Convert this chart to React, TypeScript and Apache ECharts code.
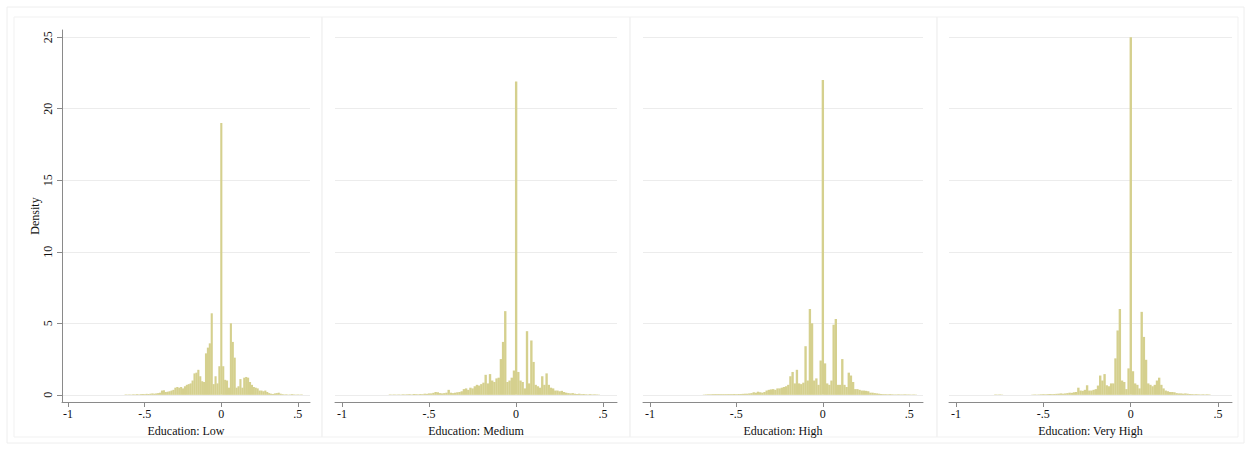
import React, { useEffect, useRef } from "react";
import * as echarts from "echarts";

// ---------- data ----------
const BIN_WIDTH = 0.0125;
const panelTitles = ["Education: Low", "Education: Medium", "Education: High", "Education: Very High"];
const xTicks = [-1, -0.5, 0, 0.5];
const yTicks = [0, 5, 10, 15, 20, 25];

// heights (density) of consecutive bins, first bin centred at *Start
const lowStart = -0.625;
const lowDensity = [
  0.03, 0.02, 0.03, 0.02, 0.04, 0.03, 0.05, 0.03,
  0.05, 0.06, 0.05, 0.07, 0.06, 0.08, 0.1, 0.08,
  0.1, 0.12, 0.15, 0.3, 0.32, 0.2, 0.22, 0.25,
  0.3, 0.35, 0.5, 0.55, 0.5, 0.55, 0.45, 0.6,
  0.7, 0.75, 0.8, 1.0, 1.5, 1.55, 1.75, 1.3,
  0.95, 0.9, 2.9, 3.3, 3.6, 5.7, 0.75, 1.3,
  0.8, 2.0, 19.0, 2.0, 1.05, 1.0, 0.5, 5.0,
  3.7, 2.6, 0.5, 0.6, 1.1, 0.5, 1.2, 1.25,
  1.2, 0.9, 0.7, 0.55, 0.5, 0.45, 0.3, 0.3,
  0.25, 0.3, 0.2, 0.12, 0.08, 0.06, 0.1, 0.12,
  0.15, 0.08, 0.05, 0.03, 0.04, 0.02, 0.03, 0.05,
  0.03, 0.02, 0.03, 0.02, 0.03,
];

const mediumStart = -0.725;
const mediumDensity = [
  0.03, 0.02, 0.03, 0.02, 0.03, 0.02, 0.04, 0.03,
  0.04, 0.05, 0.03, 0.06, 0.05, 0.04, 0.06, 0.05,
  0.08, 0.07, 0.1, 0.1, 0.14, 0.2, 0.18, 0.12,
  0.1, 0.12, 0.15, 0.35, 0.15, 0.12, 0.15, 0.18,
  0.2, 0.25, 0.4, 0.45, 0.35, 0.5, 0.45, 0.6,
  0.7, 0.65, 0.75, 0.85, 1.4, 0.8, 1.45, 1.0,
  0.9, 1.15, 1.2, 2.5, 3.7, 5.85, 0.9, 1.0,
  1.2, 1.7, 21.9, 1.6, 1.0, 0.9, 0.45, 4.45,
  0.8, 3.8, 2.3, 0.7, 0.6, 0.5, 1.3, 0.7,
  1.5, 0.7, 0.5, 0.45, 0.3, 0.3, 0.25, 0.28,
  0.2, 0.15, 0.12, 0.1, 0.12, 0.08, 0.06, 0.08,
  0.05, 0.06, 0.04, 0.03, 0.05, 0.03, 0.04, 0.03,
  0.02,
];

const highStart = -0.6875;
const highDensity = [
  0.02, 0.03, 0.04, 0.04, 0.05, 0.05, 0.05, 0.05,
  0.05, 0.05, 0.05, 0.05, 0.05, 0.05, 0.06, 0.05,
  0.06, 0.06, 0.07, 0.08, 0.08, 0.1, 0.12, 0.18,
  0.15, 0.22, 0.18, 0.15, 0.2, 0.3, 0.35, 0.38,
  0.4, 0.35, 0.45, 0.45, 0.5, 0.55, 0.6, 0.7,
  1.3, 1.6, 0.8, 1.75, 0.8, 0.75, 0.85, 3.4,
  1.0, 6.0, 5.0, 1.0, 1.15, 0.7, 2.4, 22.0,
  2.2, 0.8, 0.7, 1.0, 4.9, 5.3, 0.7, 0.7,
  2.5, 0.7, 0.55, 1.55, 1.35, 0.9, 0.4, 0.4,
  0.35, 0.3, 0.3, 0.28, 0.25, 0.15, 0.15, 0.12,
  0.1, 0.08, 0.06, 0.05, 0.05, 0.04, 0.05, 0.04,
  0.03, 0.03, 0.04, 0.03, 0.03, 0.04, 0.03, 0.03,
  0.02, 0.03, 0.02,
];

const veryHighStart = -0.775;
const veryHighDensity = [
  0.03, 0.02, 0.03, 0.02, 0, 0, 0, 0,
  0, 0, 0, 0, 0, 0, 0, 0,
  0, 0.02, 0.03, 0.02, 0.03, 0.04, 0.05, 0.04,
  0.05, 0.06, 0.05, 0.06, 0.07, 0.08, 0.1, 0.08,
  0.1, 0.12, 0.15, 0.14, 0.18, 0.2, 0.5, 0.3,
  0.28, 0.35, 0.67, 0.3, 0.3, 0.35, 0.4, 0.65,
  1.35, 1.0, 1.45, 0.67, 0.6, 0.8, 0.8, 2.55,
  4.5, 6.0, 1.0, 0.9, 0.4, 1.85, 25.0, 1.65,
  0.8, 0.7, 0.45, 5.8, 4.05, 2.45, 0.8, 0.7,
  0.6, 0.7, 1.0, 1.2, 0.7, 0.45, 0.3, 0.25,
  0.2, 0.2, 0.18, 0.12, 0.1, 0.1, 0.08, 0.1,
  0.08, 0.06, 0.05, 0.04, 0.05, 0.04, 0.03, 0.04,
  0.03, 0.04, 0.03,
];

const panelStarts = [lowStart, mediumStart, highStart, veryHighStart];
const panelDensities = [lowDensity, mediumDensity, highDensity, veryHighDensity];

// ---------- styling / layout ----------
const BAR_COLOR = "#d5d08e";
const AXIS_COLOR = "#8a8a8a";
const GRID_COLOR = "#ececec";
const FONT = "'Liberation Serif', 'DejaVu Serif', serif";
const PLOT_TOP = 30;
const PLOT_HEIGHT = 372;
const panelLayout = [
  { left: 62, width: 248 },
  { left: 335, width: 282 },
  { left: 643, width: 280 },
  { left: 949, width: 283 },
];
const frameXs = [14, 322, 630, 937, 1238];

function fmtTick(v: number): string {
  if (v === 0) return "0";
  const s = String(Math.abs(v)).replace(/^0/, "");
  return (v < 0 ? "-" : "") + s;
}

export default function App() {
  const ref = useRef<HTMLDivElement>(null);

  useEffect(() => {
    if (!ref.current) return;
    const chart = echarts.init(ref.current, null, { renderer: "svg" });

    const grid = panelLayout.map((p) => ({
      left: p.left,
      width: p.width,
      top: PLOT_TOP,
      height: PLOT_HEIGHT,
    }));

    const xAxis = panelLayout.map((_, i) => ({
      type: "value",
      gridIndex: i,
      min: -1.04,
      max: 0.58,
      axisLine: { show: true, onZero: false, lineStyle: { color: AXIS_COLOR, width: 1 } },
      axisTick: { show: true, length: 5, customValues: xTicks, lineStyle: { color: AXIS_COLOR } },
      axisLabel: {
        customValues: xTicks,
        formatter: (v: number) => fmtTick(v),
        color: "#111",
        fontFamily: FONT,
        fontSize: 12,
        margin: 6,
      },
      splitLine: { show: false },
      name: panelTitles[i],
      nameLocation: "middle",
      nameGap: 17,
      nameTextStyle: { color: "#111", fontFamily: FONT, fontSize: 12 },
    }));

    const yAxis = panelLayout.map((_, i) => ({
      type: "value",
      gridIndex: i,
      min: -0.5,
      max: 25.5,
      axisLine: { show: i === 0, onZero: false, lineStyle: { color: AXIS_COLOR, width: 1 } },
      axisTick: { show: i === 0, length: 5, customValues: yTicks, lineStyle: { color: AXIS_COLOR } },
      axisLabel: {
        show: i === 0,
        customValues: yTicks,
        rotate: 90,
        color: "#111",
        fontFamily: FONT,
        fontSize: 12,
        margin: 8,
      },
      splitLine: { show: true, lineStyle: { color: GRID_COLOR, width: 1 } },
      name: i === 0 ? "Density" : "",
      nameLocation: "middle",
      nameGap: 20,
      nameRotate: 90,
      nameTextStyle: { color: "#111", fontFamily: FONT, fontSize: 12 },
    }));

    const series = panelDensities.map((arr, i) => ({
      type: "custom",
      xAxisIndex: i,
      yAxisIndex: i,
      clip: true,
      encode: { x: 0, y: 1 },
      data: arr.map((h, k) => [panelStarts[i] + k * BIN_WIDTH, h]),
      renderItem: (_params: any, api: any) => {
        const c = api.value(0);
        const h = api.value(1);
        if (!(h > 0)) return null;
        const p0 = api.coord([c - BIN_WIDTH / 2, h]);
        const p1 = api.coord([c + BIN_WIDTH / 2, 0]);
        return {
          type: "rect",
          shape: { x: p0[0], y: p0[1], width: p1[0] - p0[0] + 0.2, height: p1[1] - p0[1] },
          style: { fill: BAR_COLOR },
        };
      },
    }));

    const frames: any[] = [
      {
        type: "rect",
        silent: true,
        shape: { x: 7, y: 7, width: 1237, height: 436 },
        style: { fill: "none", stroke: "#eeeeee", lineWidth: 1 },
      },
    ];
    for (let k = 0; k < 4; k++) {
      frames.push({
        type: "rect",
        silent: true,
        shape: { x: frameXs[k], y: 17, width: frameXs[k + 1] - frameXs[k], height: 420 },
        style: { fill: "none", stroke: "#f1f1f1", lineWidth: 1 },
      });
    }

    chart.setOption({
      animation: false,
      backgroundColor: "#ffffff",
      grid,
      xAxis,
      yAxis,
      series,
      graphic: frames,
    });

    return () => chart.dispose();
  }, []);

  return (
    <div
      ref={ref}
      style={{ position: "absolute", left: 0, top: 0, width: 1251, height: 450 }}
    />
  );
}
